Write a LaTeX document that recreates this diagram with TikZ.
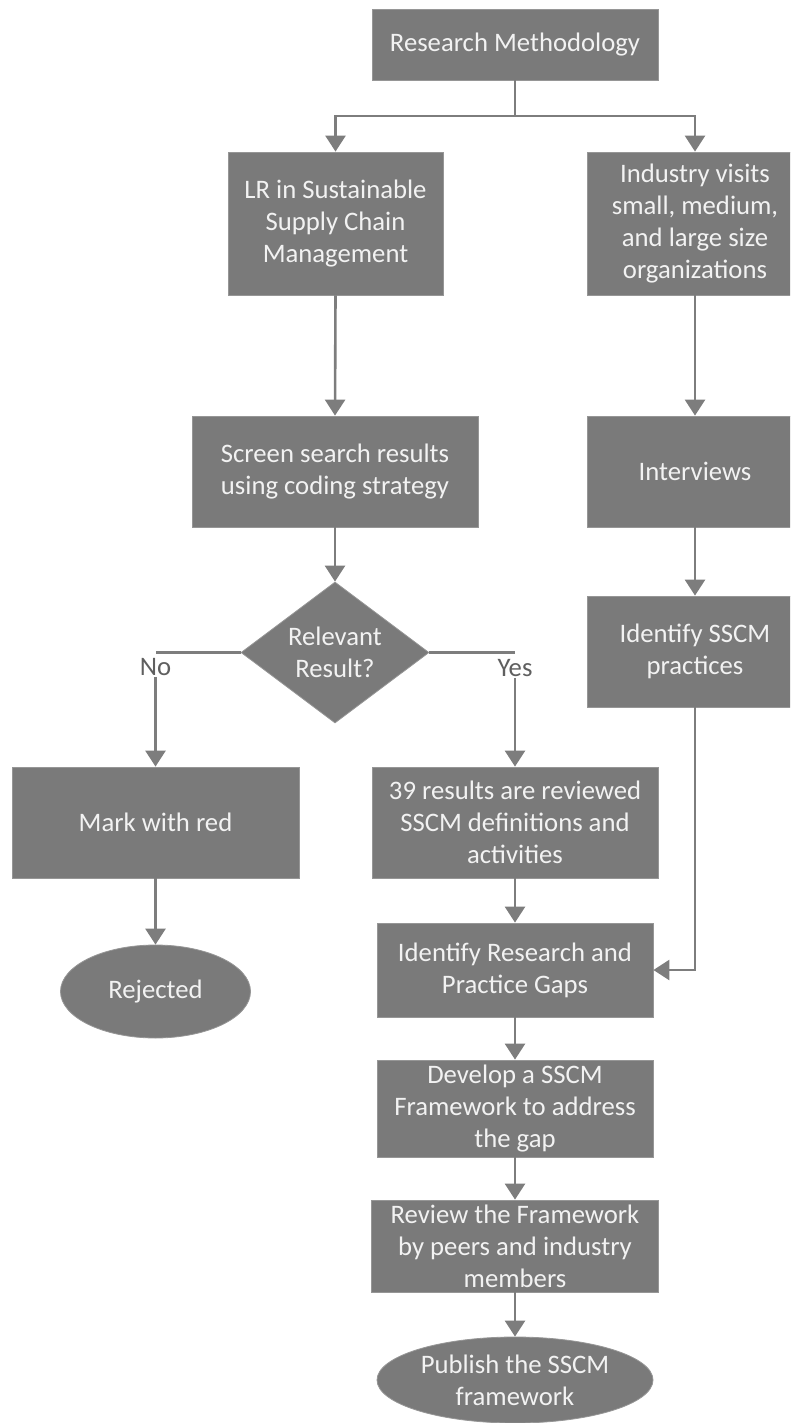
\documentclass[tikz,border=0pt]{standalone}
\usepackage{fontspec}
\setmainfont{Carlito}
\usetikzlibrary{arrows.meta,shapes.geometric}

\definecolor{boxfill}{RGB}{122,122,122}
\definecolor{boxedge}{RGB}{150,150,150}
\definecolor{linkgray}{RGB}{125,125,125}
\definecolor{boxtext}{RGB}{242,242,242}
\definecolor{labeltext}{RGB}{95,95,95}

\tikzset{
  basetext/.style={font=\fontsize{26.7}{32}\selectfont, align=center},
  stepbox/.style={basetext, rectangle, fill=boxfill, draw=boxedge, line width=0.8pt,
    text=boxtext, inner sep=0pt},
  decision/.style={basetext, diamond, fill=boxfill, draw=boxedge, line width=0.8pt,
    text=boxtext, inner sep=0pt, shape aspect=1.333},
  terminal/.style={basetext, ellipse, fill=boxfill, draw=boxedge, line width=0.8pt,
    text=boxtext, inner xsep=0pt, inner ysep=-4pt},
  branchlabel/.style={basetext, text=labeltext, inner sep=1pt},
  link/.style={draw=linkgray, line width=2.6pt},
  flow/.style={link, -{Triangle[width=20pt,length=16pt]}}
}

\begin{document}
\begin{tikzpicture}[x=1pt,y=-1pt]
  \useasboundingbox (0,0) rectangle (790,1423);
  \clip (0,0) rectangle (790,1423);

  % top of the method
  \node[stepbox, minimum width=286pt, minimum height=71pt] (rm) at (515,44.5) {Research Methodology};

  % literature review column
  \node[stepbox, minimum width=215pt, minimum height=143pt] (lr) at (335.5,223.5)
    {LR in Sustainable\\Supply Chain\\Management};
  \node[stepbox, minimum width=286pt, minimum height=111pt] (scr) at (335,471.5)
    {Screen search results\\using coding strategy};
  \node[decision, minimum width=188pt, minimum height=141pt] (dec) at (335,652.5)
    {Relevant\\Result?};
  \node[branchlabel] (no) at (155.5,667) {No};
  \node[branchlabel] (yes) at (515,668) {Yes};
  \node[stepbox, minimum width=287pt, minimum height=111pt] (mark) at (155.5,822.5) {Mark with red};
  \node[terminal, minimum width=190pt, minimum height=93pt] (rej) at (155.5,991.5) {Rejected};

  % industry column
  \node[stepbox, minimum width=216pt, minimum height=143pt] (ind) at (695,223.5)
    {Industry visits\\small, medium,\\and large size\\organizations};
  \node[stepbox, minimum width=216pt, minimum height=111pt] (intv) at (695,471.5) {Interviews};
  \node[stepbox, minimum width=216pt, minimum height=111pt] (sscm) at (695,651.5)
    {Identify SSCM\\practices};

  % merged column
  \node[stepbox, minimum width=286pt, minimum height=111pt] (rev) at (515,822.5)
    {39 results are reviewed\\SSCM definitions and\\activities};
  \node[stepbox, minimum width=276pt, minimum height=94pt] (gaps) at (515,970)
    {Identify Research and\\Practice Gaps};
  \node[stepbox, minimum width=276pt, minimum height=97pt] (dev) at (515,1108.5)
    {Develop a SSCM\\Framework to address\\the gap};
  \node[stepbox, minimum width=287pt, minimum height=92pt] (revfw) at (515,1246)
    {Review the Framework\\by peers and industry\\members};
  \node[terminal, minimum width=276pt, minimum height=86pt] (pub) at (515,1380)
    {Publish the SSCM\\framework};

  % split below the top box
  \coordinate (split) at (515,116);
  \draw[link] (rm.south) -- (split);
  \draw[flow] (split) -| (lr.north);
  \draw[flow] (split) -| (ind.north);

  % left column
  \draw[flow] (lr.south) -- (scr.north);
  \draw[flow] (scr.south) -- (dec.north);
  \draw[link] (dec.west) -- (dec.west -| no.north);
  \draw[link] (dec.east) -- (dec.east -| yes.north);
  \draw[flow] (no.south) -- (mark.north);
  \draw[flow] (yes.south) -- (rev.north);
  \draw[flow] (mark.south) -- (rej.north);

  % right column
  \draw[flow] (ind.south) -- (intv.north);
  \draw[flow] (intv.south) -- (sscm.north);
  \draw[flow] (sscm.south) |- (gaps.east);

  % final sequence
  \draw[flow] (rev.south) -- (gaps.north);
  \draw[flow] (gaps.south) -- (dev.north);
  \draw[flow] (dev.south) -- (revfw.north);
  \draw[flow] (revfw.south) -- (pub.north);
\end{tikzpicture}
\end{document}
